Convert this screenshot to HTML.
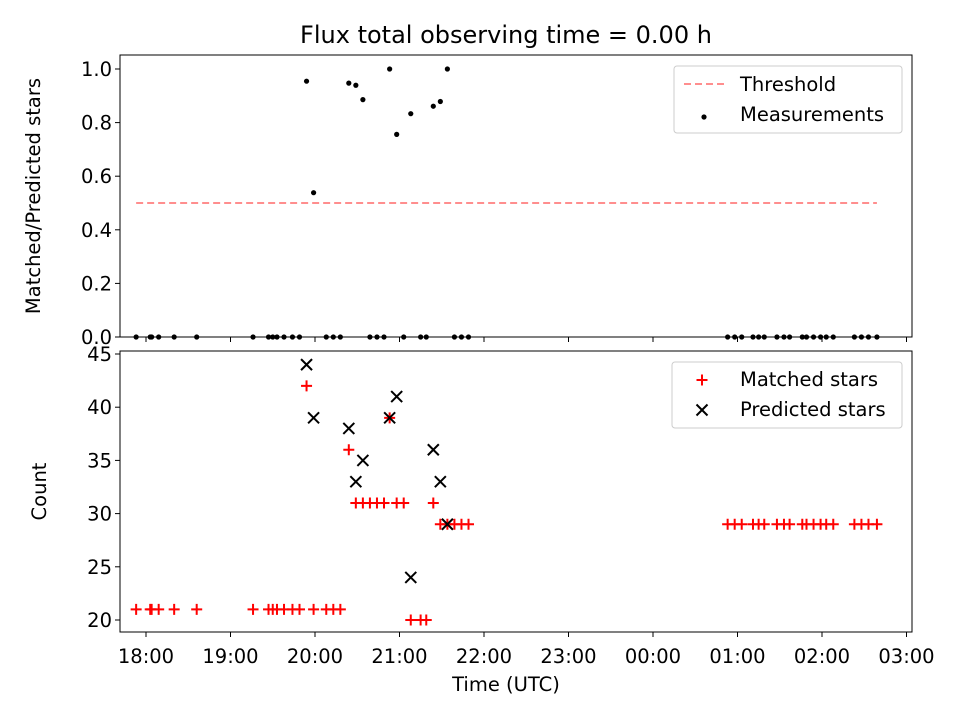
<!DOCTYPE html>
<html><head><meta charset="utf-8"><style>
body{margin:0;background:#fff}
svg{font-family:"DejaVu Sans","Liberation Sans",sans-serif}
</style></head><body>
<svg id="chart" width="960" height="720" xmlns="http://www.w3.org/2000/svg">
<rect width="960" height="720" fill="#fff"/>
<text x="506" y="43" font-size="24" text-anchor="middle">Flux total observing time = 0.00 h</text>
<g id="gtop"></g><g id="gbot"></g>
</svg>
<script>
// minutes since 18:00
const times = [-7,3,4,9,20,36,76,87,90,93,98,104,109,114,119,128,133,138,144,149,154,159,164,169,173,178,183,188,195,199,204,209,214,219,224,229,413,418,423,431,435,439,448,453,457,466,469,474,479,483,488,503,508,513,519];
const matched = [21,21,21,21,21,21,21,21,21,21,21,21,21,42,21,21,21,21,36,31,31,31,31,31,39,31,31,20,20,20,31,29,29,29,29,29,29,29,29,29,29,29,29,29,29,29,29,29,29,29,29,29,29,29,29];
const predicted = [0,0,0,0,0,0,0,0,0,0,0,0,0,44,39,0,0,0,38,33,35,0,0,0,39,41,0,24,0,0,36,33,29,0,0,0,0,0,0,0,0,0,0,0,0,0,0,0,0,0,0,0,0,0,0];
const xTickLabels = ["18:00","19:00","20:00","21:00","22:00","23:00","00:00","01:00","02:00","03:00"];
const topTicks = [0,0.2,0.4,0.6,0.8,1.0];
const botTicks = [20,25,30,35,40,45];
const threshold = 0.5;

const NS="http://www.w3.org/2000/svg";
const L=120,R=912;
const FS=19.5;
const xs=m=>146+m*84.5/60;
const yTop=v=>337-v*268;
const yBot=v=>620-(v-20)*10.64;
function el(p,t,a){const e=document.createElementNS(NS,t);for(const k in a)e.setAttribute(k,a[k]);p.appendChild(e);return e;}
const gTop=document.getElementById('gtop'),gBot=document.getElementById('gbot');

function axes(g,y0,y1,ticks,yf,fmt,showX,ylabel,nm,ylx){
  const f=el(g,'rect',{x:L,y:y0,width:R-L,height:y1-y0,fill:'none',stroke:'#000','stroke-width':1});
  
  xTickLabels.forEach((lb,i)=>{const x=xs(i*60);
    el(g,'line',{x1:x,x2:x,y1:y1,y2:y1+5,stroke:'#000'});
    if(showX){const t=el(g,'text',{x:x,y:y1+31,'font-size':FS,'text-anchor':'middle'});t.textContent=lb;
      }
  });
  ticks.forEach(v=>{const y=yf(v);el(g,'line',{x1:L-5,x2:L,y1:y,y2:y,stroke:'#000'});
    const t=el(g,'text',{x:L-8,y:y+7,'font-size':FS,'text-anchor':'end'});t.textContent=fmt(v);
    });
  const yl=el(g,'text',{x:0,y:0,'font-size':FS,'text-anchor':'middle',transform:`translate(${ylx},${(y0+y1)/2}) rotate(-90)`});
  yl.textContent=ylabel;
}
axes(gTop,55,337,topTicks,yTop,v=>v.toFixed(1),false,'Matched/Predicted stars','top',40);
axes(gBot,351,632,botTicks,yBot,v=>String(v),true,'Count','bottom',46);
const xt=el(gBot,'text',{x:506,y:691,'font-size':FS,'text-anchor':'middle'});xt.textContent='Time (UTC)';


// threshold
const th=el(gTop,'line',{x1:xs(Math.min(...times)),x2:xs(Math.max(...times)),y1:yTop(threshold),y2:yTop(threshold),stroke:'#ff7f7f','stroke-width':1.8,'stroke-dasharray':'7,4'});

// measurements
times.forEach((t,i)=>{const r=predicted[i]>0?matched[i]/predicted[i]:0;
  const c=el(gTop,'circle',{cx:xs(t),cy:yTop(r),r:2.6,fill:'#000'});
  });
// matched
times.forEach((t,i)=>{const x=xs(t),y=yBot(matched[i]);
  const p=el(gBot,'path',{d:`M${x-5.5},${y}H${x+5.5}M${x},${y-5.5}V${y+5.5}`,stroke:'#f00','stroke-width':2});
  });
// predicted
times.forEach((t,i)=>{if(predicted[i]<=0)return;const x=xs(t),y=yBot(predicted[i]);
  const p=el(gBot,'path',{d:`M${x-5.5},${y-5.5}L${x+5.5},${y+5.5}M${x-5.5},${y+5.5}L${x+5.5},${y-5.5}`,stroke:'#000','stroke-width':2});
  });

// legends
function legend(g,x,y,w,h,nm){const r=el(g,'rect',{x:x,y:y,width:w,height:h,rx:3,fill:'#fff','fill-opacity':0.8,stroke:'#ccc'});
  }
legend(gTop,674,66,228,67,'top-legend');
el(gTop,'line',{x1:684,x2:724,y1:84,y2:84,stroke:'#ff7f7f','stroke-width':1.8,'stroke-dasharray':'7,4'});
let t1=el(gTop,'text',{x:740,y:91,'font-size':FS});t1.textContent='Threshold';

el(gTop,'circle',{cx:704,cy:117,r:2.6,fill:'#000'});
let t2=el(gTop,'text',{x:740,y:121,'font-size':FS});t2.textContent='Measurements';


legend(gBot,672,362,230,66,'bottom-legend');
el(gBot,'path',{d:'M696.5,380H707.5M702,374.5V385.5',stroke:'#f00','stroke-width':2});
let t3=el(gBot,'text',{x:740,y:386,'font-size':FS});t3.textContent='Matched stars';

el(gBot,'path',{d:'M696.5,404.5L707.5,415.5M696.5,415.5L707.5,404.5',stroke:'#000','stroke-width':2});
let t4=el(gBot,'text',{x:740,y:416,'font-size':FS});t4.textContent='Predicted stars';

</script>
</body></html>
